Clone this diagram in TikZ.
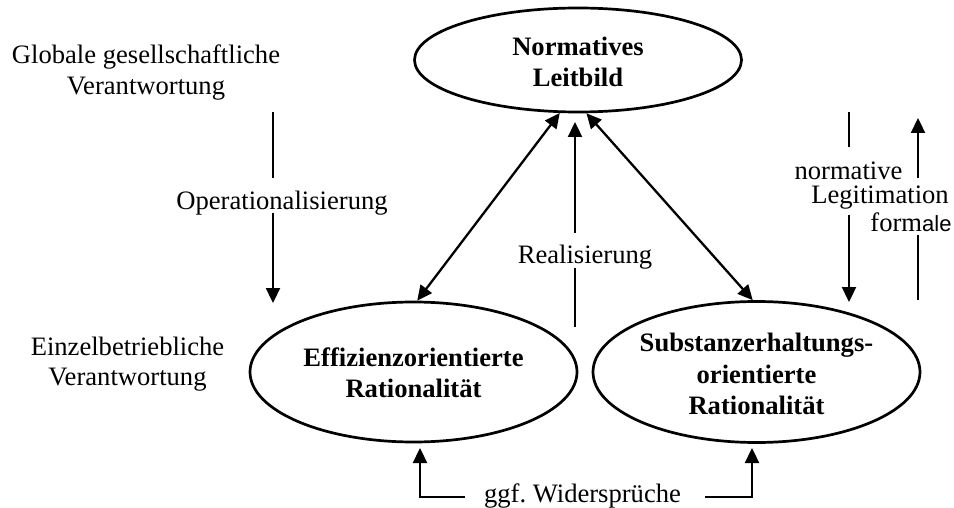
\documentclass[tikz,border=0pt]{standalone}
\usepackage{fontspec}
\setmainfont{Liberation Serif}
\newfontfamily\arialfont{Liberation Sans}
\usetikzlibrary{arrows.meta,shapes.geometric}
\frenchspacing
\begin{document}
\begin{tikzpicture}[x=1pt,y=-1pt,
  oval/.style={draw, ellipse, line width=2.7pt, inner sep=0pt},
  lbl/.style={inner sep=0pt, font=\fontsize{26.6}{30.5}\selectfont},
  boldlbl/.style={inner sep=0pt, align=center, font=\fontsize{26.6}{31.5}\selectfont\bfseries},
  conn/.style={line width=2.3pt},
  arr/.style={conn, -{Triangle[length=15pt,width=14pt]}},
  darr/.style={conn, {Triangle[length=15pt,width=14pt]}-{Triangle[length=15pt,width=14pt]}}]
\useasboundingbox (0,0) rectangle (954,508);
% ellipses
\node[oval, minimum width=327pt, minimum height=104pt] (norm) at (578,60) {};
\node[boldlbl] (normt) at (578,62) {Normatives\\Leitbild};
\node[oval, minimum width=327pt, minimum height=140pt] (eff) at (413.5,372) {};
\node[boldlbl] (efft) at (413.5,373) {Effizienzorientierte\\Rationalität};
\node[oval, minimum width=327pt, minimum height=141pt] (sub) at (756.5,372) {};
\node[boldlbl] (subt) at (756.5,374) {Substanzerhaltungs-\\orientierte\\Rationalität};
% side labels
\node[lbl, align=center] (glob) at (146,72.5) {Globale gesellschaftliche\\Verantwortung};
\node[lbl, align=center] (einz) at (127.5,364) {Einzelbetriebliche\\Verantwortung};
\node[lbl, anchor=base] (oper) at (282,210) {Operationalisierung};
\node[lbl, anchor=base] (real) at (585,263) {Realisierung};
\node[lbl, anchor=base] (normv) at (848.5,180) {normative};
\node[lbl, anchor=base] (legit) at (880,204) {Legitimation};
\node[lbl, anchor=base] (form) at (911,232) {form{\arialfont\fontsize{22}{26}\selectfont ale}};
\node[lbl, anchor=base] (wid) at (582.5,502) {ggf. Widersprüche};
% free-end coordinates
\coordinate (opA) at (273,112);
\coordinate (opB) at (273,178);
\coordinate (opC) at (273,213);
\coordinate (opD) at (273,303);
\coordinate (reA) at (575,327);
\coordinate (reB) at (575,268);
\coordinate (reC) at (575,233);
\coordinate (reD) at (575,122);
\coordinate (nlA) at (849,112);
\coordinate (nlB) at (849,147);
\coordinate (nlC) at (849,215);
\coordinate (nlD) at (849,302);
\coordinate (flA) at (918,300);
\coordinate (flB) at (918,235);
\coordinate (flC) at (918,178);
\coordinate (flD) at (918,118);
\coordinate (wL) at (465,497);
\coordinate (wLt) at (420,448);
\coordinate (wR) at (705,497);
\coordinate (wRt) at (752,448);
% connectors
\draw[conn] (opA) -- (opB);
\draw[arr] (opC) -- (opD);
\draw[conn] (reA) -- (reB);
\draw[arr] (reC) -- (reD);
\draw[conn] (nlA) -- (nlB);
\draw[arr] (nlC) -- (nlD);
\draw[conn] (flA) -- (flB);
\draw[arr] (flC) -- (flD);
\draw[darr] (norm.251) -- (eff.87);
\draw[darr] (norm.279.6) -- (sub.93.7);
\draw[arr] (wL) -| (wLt);
\draw[arr] (wR) -| (wRt);
\end{tikzpicture}
\end{document}
